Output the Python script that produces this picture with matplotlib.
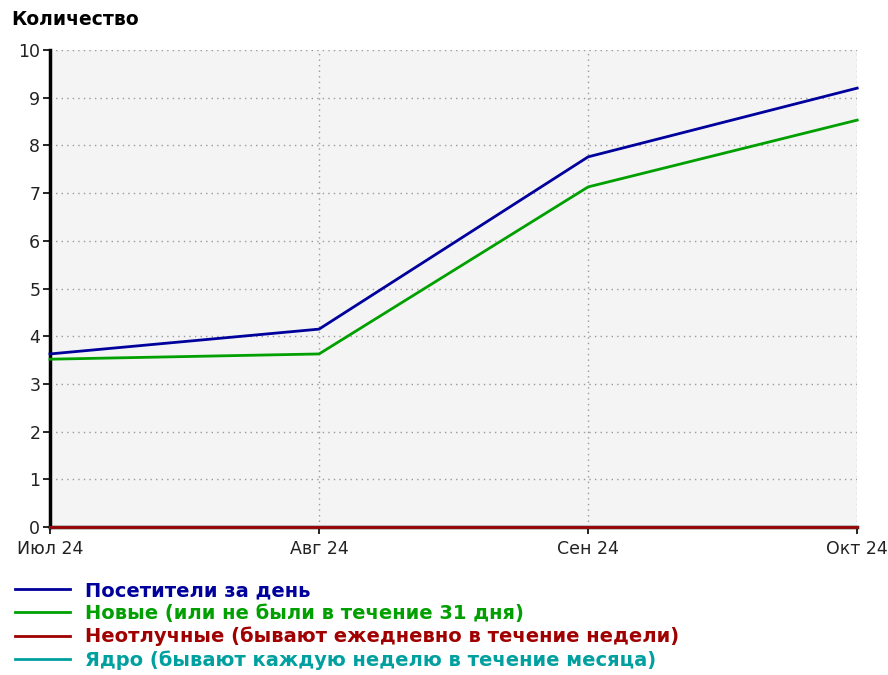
import matplotlib
matplotlib.use("Agg")
import matplotlib.pyplot as plt

plt.rcParams['font.family'] = ['DejaVu Sans']

months = ["Июл 24", "Авг 24", "Сен 24", "Окт 24"]
visitors = [3.63, 4.15, 7.76, 9.2]
new_visitors = [3.52, 3.63, 7.13, 8.53]
regulars = [0, 0, 0, 0]
core = [0, 0, 0, 0]

labels = [
    "Посетители за день",
    "Новые (или не были в течение 31 дня)",
    "Неотлучные (бывают ежедневно в течение недели)",
    "Ядро (бывают каждую неделю в течение месяца)",
]
colors = ["#00009c", "#00a000", "#a00000", "#00a0a0"]

fig = plt.figure(figsize=(8.88, 6.75), dpi=100)
ax = fig.add_axes([0.0563, 0.219, 0.909, 0.707])
ax.set_facecolor("#f4f4f4")

x = range(len(months))
# red series drawn above the teal one, both sit on zero
for series, label, color, z in [
    (visitors, labels[0], colors[0], 3),
    (new_visitors, labels[1], colors[1], 3),
    (regulars, labels[2], colors[2], 5),
    (core, labels[3], colors[3], 4),
]:
    ax.plot(x, series, color=color, lw=2.0, label=label, zorder=z, clip_on=False)

ax.set_xlim(0, len(months) - 1)
ax.set_ylim(0, 10)
ax.set_xticks(list(x))
ax.set_xticklabels(months)
ax.set_yticks(range(0, 11))
ax.grid(True, color="#999999", linestyle=(0, (1, 3)), linewidth=1)
ax.set_axisbelow(True)

for side in ["top", "right"]:
    ax.spines[side].set_visible(False)
ax.spines["left"].set_linewidth(2.5)
ax.spines["bottom"].set_linewidth(2.5)
ax.tick_params(axis="both", labelsize=12.5, colors="black", length=5, width=1.2,
               labelcolor="#222222")
ax.tick_params(axis="x", pad=4)
ax.tick_params(axis="y", pad=2)

fig.text(0.013, 0.971, "Количество", fontsize=13.5, fontweight="bold", ha="left", va="center")

handles, lbls = ax.get_legend_handles_labels()
leg = ax.legend(handles, lbls, loc="upper left", bbox_to_anchor=(-0.043, -0.113),
                frameon=False, ncol=1, handlelength=2.8, handletextpad=0.8,
                labelspacing=0.2, prop={"weight": "bold", "size": 14},
                labelcolor="linecolor", borderaxespad=0, borderpad=0)

fig.savefig("out.png", dpi=100)
